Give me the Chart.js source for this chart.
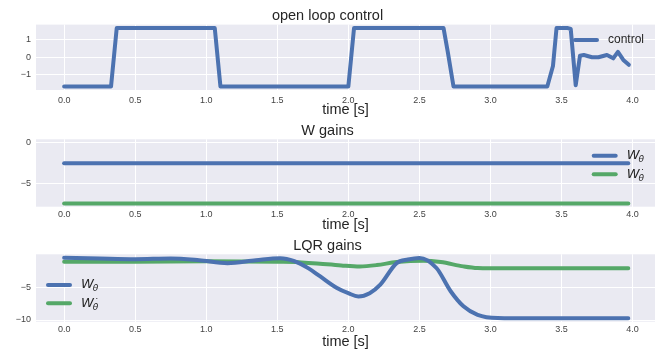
<!DOCTYPE html>
<html>
<head>
<meta charset="utf-8">
<script src="https://cdn.jsdelivr.net/npm/chart.js@4.4.0/dist/chart.umd.min.js"></script>
<style>
  body { margin: 0; background: #fff; }
  canvas { position: absolute; left: 0; }
</style>
</head>
<body>
<canvas id="c1" width="657" height="117" style="top:0px"></canvas>
<canvas id="c2" width="657" height="117" style="top:117px"></canvas>
<canvas id="c3" width="657" height="118" style="top:234px"></canvas>
<script>
// open loop control signal (breakpoints)
const controlTime = [0, 0.33, 0.37, 1.06, 1.10, 2.00, 2.04, 2.67, 2.70, 2.74, 3.40, 3.44, 3.465, 3.545, 3.565, 3.60, 3.63, 3.657, 3.715, 3.76, 3.82, 3.864, 3.897, 3.935, 3.974];
const controlValue = [-1.67, -1.67, 1.67, 1.67, -1.67, -1.67, 1.67, 1.67, 0.3, -1.67, -1.67, -0.5, 1.67, 1.67, 1.62, -1.6, 0.09, 0.13, 0.0, 0.0, 0.13, -0.06, 0.31, -0.15, -0.43];

// W gains (constant)
const wTime = [0, 3.97];
const wTheta = [-2.55, -2.55];
const wThetaDot = [-7.45, -7.45];

// LQR gains
const lqrThetaTime = [0, 0.25, 0.5, 0.75, 0.95, 1.15, 1.35, 1.52, 1.62, 1.72, 1.80, 1.92, 2.0, 2.07, 2.15, 2.225, 2.34, 2.42, 2.5, 2.62, 2.72, 2.81, 2.91, 3.05, 3.3, 3.97];
const lqrTheta = [-0.47, -0.6, -0.7, -0.58, -0.85, -1.3, -0.85, -0.55, -1.0, -2.1, -3.3, -5.1, -5.9, -6.4, -5.9, -4.6, -1.3, -0.75, -0.5, -2.05, -5.6, -7.9, -9.2, -9.7, -9.75, -9.75];
const lqrThetaDotTime = [0, 0.5, 1.0, 1.5, 1.65, 1.8, 1.95, 2.08, 2.2, 2.34, 2.53, 2.65, 2.81, 2.91, 3.1, 3.97];
const lqrThetaDot = [-1.1, -1.1, -1.03, -1.1, -1.15, -1.4, -1.65, -1.8, -1.6, -1.14, -0.93, -1.14, -1.8, -2.05, -2.1, -2.1];

// ticks
const xTicks = [0, 0.5, 1, 1.5, 2, 2.5, 3, 3.5, 4];
const controlTicks = [-1, 0, 1];
const wTicks = [-5, 0];
const lqrTicks = [-10, -5];

const BLUE = '#4C72B0';
const GREEN = '#55A868';
const TEXT = '#262626';
const TICK = '#444444';
const FONT = "'Liberation Sans', Arial, sans-serif";
const MATH_FONT = "'DejaVu Sans', sans-serif";

function pairs(xs, ys) {
  return xs.map((x, i) => ({ x: x, y: ys[i] }));
}

function fmtY(v) {
  return v < 0 ? '\u2212' + Math.abs(v) : String(v);
}

// grey axes background like seaborn darkgrid
const panelBg = {
  id: 'panelBg',
  beforeDraw(chart) {
    const a = chart.chartArea;
    const ctx = chart.ctx;
    ctx.save();
    ctx.fillStyle = '#EAEAF2';
    ctx.fillRect(a.left, a.top, a.right - a.left, a.bottom - a.top);
    ctx.restore();
  }
};

// legend with mathtext style labels (W with subscript theta)
const mathLegend = {
  id: 'mathLegend',
  afterDraw(chart, args, opts) {
    if (!opts || !opts.items) return;
    const a = chart.chartArea;
    const ctx = chart.ctx;
    let x = opts.fromRight != null ? a.right - opts.fromRight : a.left + opts.fromLeft;
    let y = a.top + opts.fromTop;
    ctx.save();
    opts.items.forEach(item => {
      ctx.strokeStyle = item.color;
      ctx.lineWidth = 4;
      ctx.lineCap = 'round';
      ctx.beginPath();
      ctx.moveTo(x + 2, y);
      ctx.lineTo(x + 24, y);
      ctx.stroke();
      ctx.fillStyle = TEXT;
      ctx.textBaseline = 'middle';
      ctx.textAlign = 'left';
      const tx = x + 35;
      if (item.sub) {
        ctx.font = 'italic 13px ' + MATH_FONT;
        ctx.fillText(item.text, tx, y);
        const w = ctx.measureText(item.text).width;
        ctx.font = 'italic 9px ' + MATH_FONT;
        const sx = tx + w - 1;
        ctx.fillText(item.sub, sx, y + 4);
        if (item.dot) {
          const sw = ctx.measureText(item.sub).width;
          ctx.textAlign = 'center';
          ctx.fillText('\u02d9', sx + sw / 2 + 0.5, y - 1);
        }
      } else {
        ctx.font = '12px ' + FONT;
        ctx.fillText(item.text, tx, y);
      }
      y += opts.gap || 0;
    });
    ctx.restore();
  }
};

function panel(id, cfg) {
  return new Chart(document.getElementById(id), {
    type: 'line',
    data: { datasets: cfg.datasets },
    options: {
      responsive: false,
      animation: false,
      devicePixelRatio: 1,
      layout: { padding: { left: 0, right: 2, top: 0, bottom: 0 } },
      plugins: {
        legend: { display: false },
        tooltip: { enabled: false },
        title: {
          display: true,
          text: cfg.title,
          color: TEXT,
          font: { family: FONT, size: 14.5, weight: 'normal', lineHeight: 1.2 },
          padding: { top: cfg.titleTop, bottom: 0 }
        },
        mathLegend: cfg.legend
      },
      scales: {
        x: {
          type: 'linear',
          min: -0.198,
          max: 4.158,
          afterBuildTicks: s => { s.ticks = xTicks.map(v => ({ value: v })); },
          afterFit: s => { s.height = cfg.xHeight; },
          grid: { color: '#ffffff', lineWidth: 1, drawTicks: false },
          border: { display: false },
          ticks: {
            padding: cfg.tickPad,
            color: TICK,
            maxRotation: 0,
            autoSkip: false,
            font: { family: FONT, size: 9 },
            callback: v => v.toFixed(1)
          },
          title: {
            display: true,
            text: 'time [s]',
            color: TEXT,
            font: { family: FONT, size: 14.5, lineHeight: 1 },
            padding: { top: 0, bottom: cfg.xTitlePad }
          }
        },
        y: {
          min: cfg.yMin,
          max: cfg.yMax,
          afterBuildTicks: s => { s.ticks = cfg.yTicks.map(v => ({ value: v })); },
          afterFit: s => { s.width = 36; },
          grid: { color: '#ffffff', lineWidth: 1, drawTicks: false },
          border: { display: false },
          ticks: {
            padding: 5,
            color: TICK,
            autoSkip: false,
            font: { family: FONT, size: 9 },
            callback: v => fmtY(v)
          }
        }
      }
    },
    plugins: [panelBg, mathLegend]
  });
}

function line(points, color, smooth) {
  return {
    data: points,
    borderColor: color,
    borderWidth: 4,
    pointRadius: 0,
    borderCapStyle: 'round',
    borderJoinStyle: 'round',
    fill: false,
    tension: 0,
    cubicInterpolationMode: smooth ? 'monotone' : 'default'
  };
}

panel('c1', {
  title: 'open loop control',
  titleTop: 7.2,
  xHeight: 27,
  tickPad: 5,
  xTitlePad: 0,
  yMin: -1.87,
  yMax: 1.87,
  yTicks: controlTicks,
  datasets: [line(pairs(controlTime, controlValue), BLUE, false)],
  legend: { fromRight: 82, fromTop: 15.3, gap: 0, items: [{ color: BLUE, text: 'control' }] }
});

panel('c2', {
  title: 'W gains',
  titleTop: 4.9,
  xHeight: 27.3,
  tickPad: 2.5,
  xTitlePad: 1.75,
  yMin: -7.85,
  yMax: 0.37,
  yTicks: wTicks,
  datasets: [
    line(pairs(wTime, wTheta), BLUE, false),
    line(pairs(wTime, wThetaDot), GREEN, false)
  ],
  legend: {
    fromRight: 63.3, fromTop: 16.4, gap: 18.6,
    items: [{ color: BLUE, text: 'W', sub: '\u03b8' }, { color: GREEN, text: 'W', sub: '\u03b8', dot: true }]
  }
});

panel('c3', {
  title: 'LQR gains',
  titleTop: 2.9,
  xHeight: 30.3,
  tickPad: 2.5,
  xTitlePad: 2.75,
  yMin: -10.26,
  yMax: 0.05,
  yTicks: lqrTicks,
  datasets: [
    line(pairs(lqrThetaTime, lqrTheta), BLUE, true),
    line(pairs(lqrThetaDotTime, lqrThetaDot), GREEN, true)
  ],
  legend: {
    fromLeft: 10, fromTop: 30.7, gap: 18.3,
    items: [{ color: BLUE, text: 'W', sub: '\u03b8' }, { color: GREEN, text: 'W', sub: '\u03b8', dot: true }]
  }
});
</script>
</body>
</html>
